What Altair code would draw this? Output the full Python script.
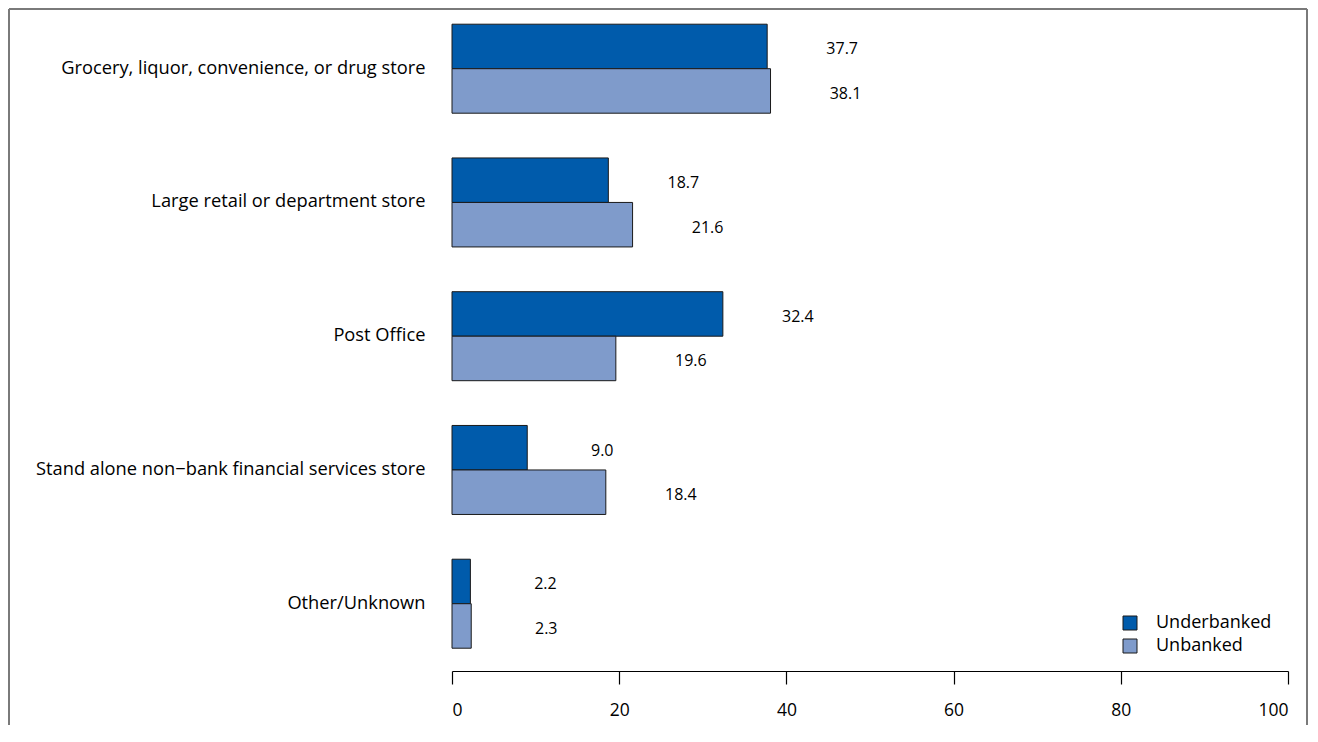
import altair as alt
import pandas as pd

categories = [
    "Grocery, liquor, convenience, or drug store",
    "Large retail or department store",
    "Post Office",
    "Stand alone non\u2212bank financial services store",
    "Other/Unknown",
]
series = ["Underbanked", "Unbanked"]
underbanked = [37.7, 18.7, 32.4, 9.0, 2.2]
unbanked = [38.1, 21.6, 19.6, 18.4, 2.3]
x_ticks = [0, 20, 40, 60, 80, 100]
colors = ["#005bab", "#7f9bcb"]

rows = []
for c, u, n in zip(categories, underbanked, unbanked):
    rows.append({"category": c, "series": series[0], "value": u})
    rows.append({"category": c, "series": series[1], "value": n})
df = pd.DataFrame(rows)

FONT = "Open Sans"

y_enc = alt.Y(
    "category:N",
    sort=categories,
    scale=alt.Scale(paddingInner=0.3346, paddingOuter=0.142, align=0.40),
    axis=alt.Axis(title=None, domain=False, ticks=False, labelPadding=27,
                  labelFontSize=18.3, labelFont=FONT, labelColor="black",
                  labelLimit=600),
)
yoff = alt.YOffset("series:N", sort=series,
                   scale=alt.Scale(domain=series, paddingInner=0, paddingOuter=0))
x_enc = alt.X(
    "value:Q",
    scale=alt.Scale(domain=[0, 100], nice=False),
    axis=alt.Axis(title=None, values=x_ticks, grid=False, domainColor="black",
                  tickColor="black", tickSize=13, labelPadding=17,
                  labelFontSize=17.5, labelFont=FONT, labelColor="black",
                  domainWidth=1.2, tickWidth=1.2),
)

base = alt.Chart(df)

bars = base.mark_bar(stroke="#1a1a1a", strokeWidth=1).encode(
    x=x_enc,
    y=y_enc,
    yOffset=yoff,
    color=alt.Color(
        "series:N",
        sort=series,
        scale=alt.Scale(domain=series, range=colors),
        legend=alt.Legend(title=None, orient="none", legendX=669, legendY=605,
                          symbolType="square", symbolSize=196,
                          symbolStrokeColor="#1a1a1a", symbolStrokeWidth=1,
                          labelFontSize=18, labelFont=FONT, labelColor="black",
                          labelOffset=17, rowPadding=5, padding=0),
    ),
)

labels = base.mark_text(align="center", baseline="middle", dx=75, dy=3,
                        fontSize=16, font=FONT, color="black").encode(
    x=alt.X("value:Q"),
    y=alt.Y("category:N", sort=categories),
    yOffset=yoff,
    text=alt.Text("value:Q", format=".1f"),
)

frame_df = pd.DataFrame({"k": [0]})
frame_col = "#7a7a7a"
left = alt.Chart(frame_df).mark_rule(color=frame_col, strokeWidth=2).encode(
    x=alt.value(-443), y=alt.value(0), y2=alt.value(716))
top = alt.Chart(frame_df).mark_rule(color=frame_col, strokeWidth=2).encode(
    x=alt.value(-443), x2=alt.value(855), y=alt.value(0))
right = alt.Chart(frame_df).mark_rule(color=frame_col, strokeWidth=2).encode(
    x=alt.value(855), y=alt.value(0), y2=alt.value(716))

chart = alt.layer(bars, labels, left, top, right).properties(
    width=836, height=662, padding=0, background="white"
).configure_view(stroke=None)

chart.save("out.html", embed_options={"renderer": "svg", "actions": False})
